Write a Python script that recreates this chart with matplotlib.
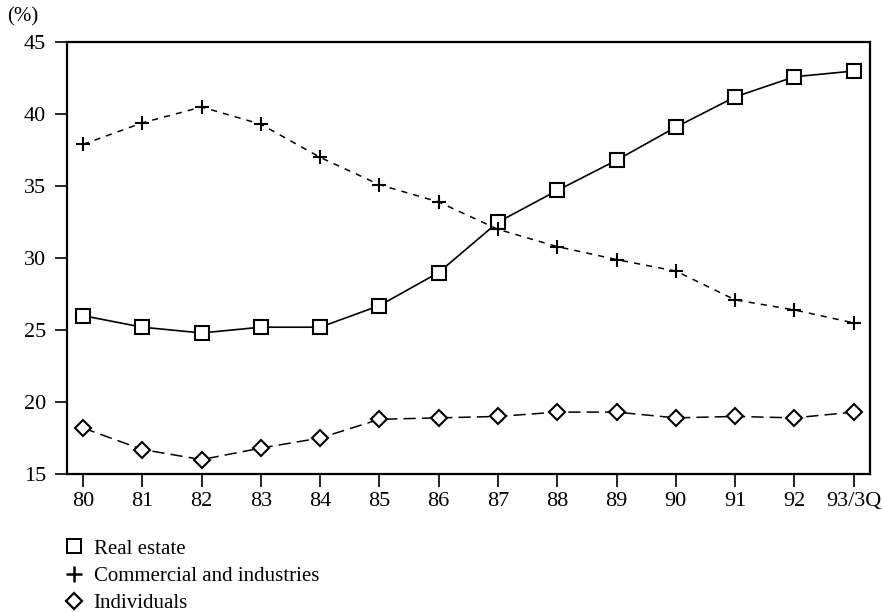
import numpy as np
import matplotlib
matplotlib.use('Agg')
import matplotlib.pyplot as plt

plt.rcParams['font.family'] = ['Liberation Serif', 'DejaVu Serif']

# data
years = ['80', '81', '82', '83', '84', '85', '86', '87', '88', '89', '90', '91', '92', '93/3Q']
real_estate = [26.0, 25.2, 24.8, 25.2, 25.2, 26.7, 29.0, 32.5, 34.7, 36.8, 39.1, 41.2, 42.6, 43.0]
commercial = [37.9, 39.4, 40.5, 39.3, 37.0, 35.1, 33.9, 32.0, 30.8, 29.9, 29.1, 27.1, 26.4, 25.5]
individuals = [18.2, 16.7, 16.0, 16.8, 17.5, 18.8, 18.9, 19.0, 19.3, 19.3, 18.9, 19.0, 18.9, 19.3]
yticks = [15, 20, 25, 30, 35, 40, 45]

x = np.arange(len(years))

fig = plt.figure(figsize=(8.82, 6.12), dpi=100)
ax = fig.add_axes([0.076, 0.2255, 0.91, 0.7055])

ax.plot(x, real_estate, color='black', lw=1.2, ls='-',
        marker='s', ms=10.5, mfc='white', mec='black', mew=1.5)
ax.plot(x, commercial, color='black', lw=1.1, ls=(0, (4, 4)),
        marker='+', ms=10, mec='black', mew=1.5)
ax.plot(x, individuals, color='black', lw=1.1, ls=(0, (8, 4)),
        marker='D', ms=8, mfc='white', mec='black', mew=1.5)

ax.set_xlim(-0.27, 13.27)
ax.set_ylim(15, 45)
ax.set_xticks(x)
ax.set_xticklabels(years)
ax.set_yticks(yticks)
ax.tick_params(direction='out', length=9, width=1.2, labelsize=16, pad=4)
ax.tick_params(axis='y', pad=6)
for s in ax.spines.values():
    s.set_linewidth(1.6)

fig.text(0.008, 0.972, '(%)', fontsize=15, va='center', ha='left')

# legend with markers only
h1 = plt.Line2D([], [], ls='none', marker='s', ms=10, mfc='white', mec='black', mew=1.4)
h2 = plt.Line2D([], [], ls='none', marker='+', ms=11, mec='black', mew=1.8)
h3 = plt.Line2D([], [], ls='none', marker='D', ms=8, mfc='white', mec='black', mew=1.6)
fig.legend([h1, h2, h3], ['Real estate', 'Commercial and industries', 'Individuals'],
           loc='upper left', bbox_to_anchor=(0.072, 0.119), frameon=False,
           fontsize=15, handlelength=1.0, handletextpad=0.45, labelspacing=0.37,
           borderpad=0, borderaxespad=0)
fig.savefig('out.png', dpi=100)
